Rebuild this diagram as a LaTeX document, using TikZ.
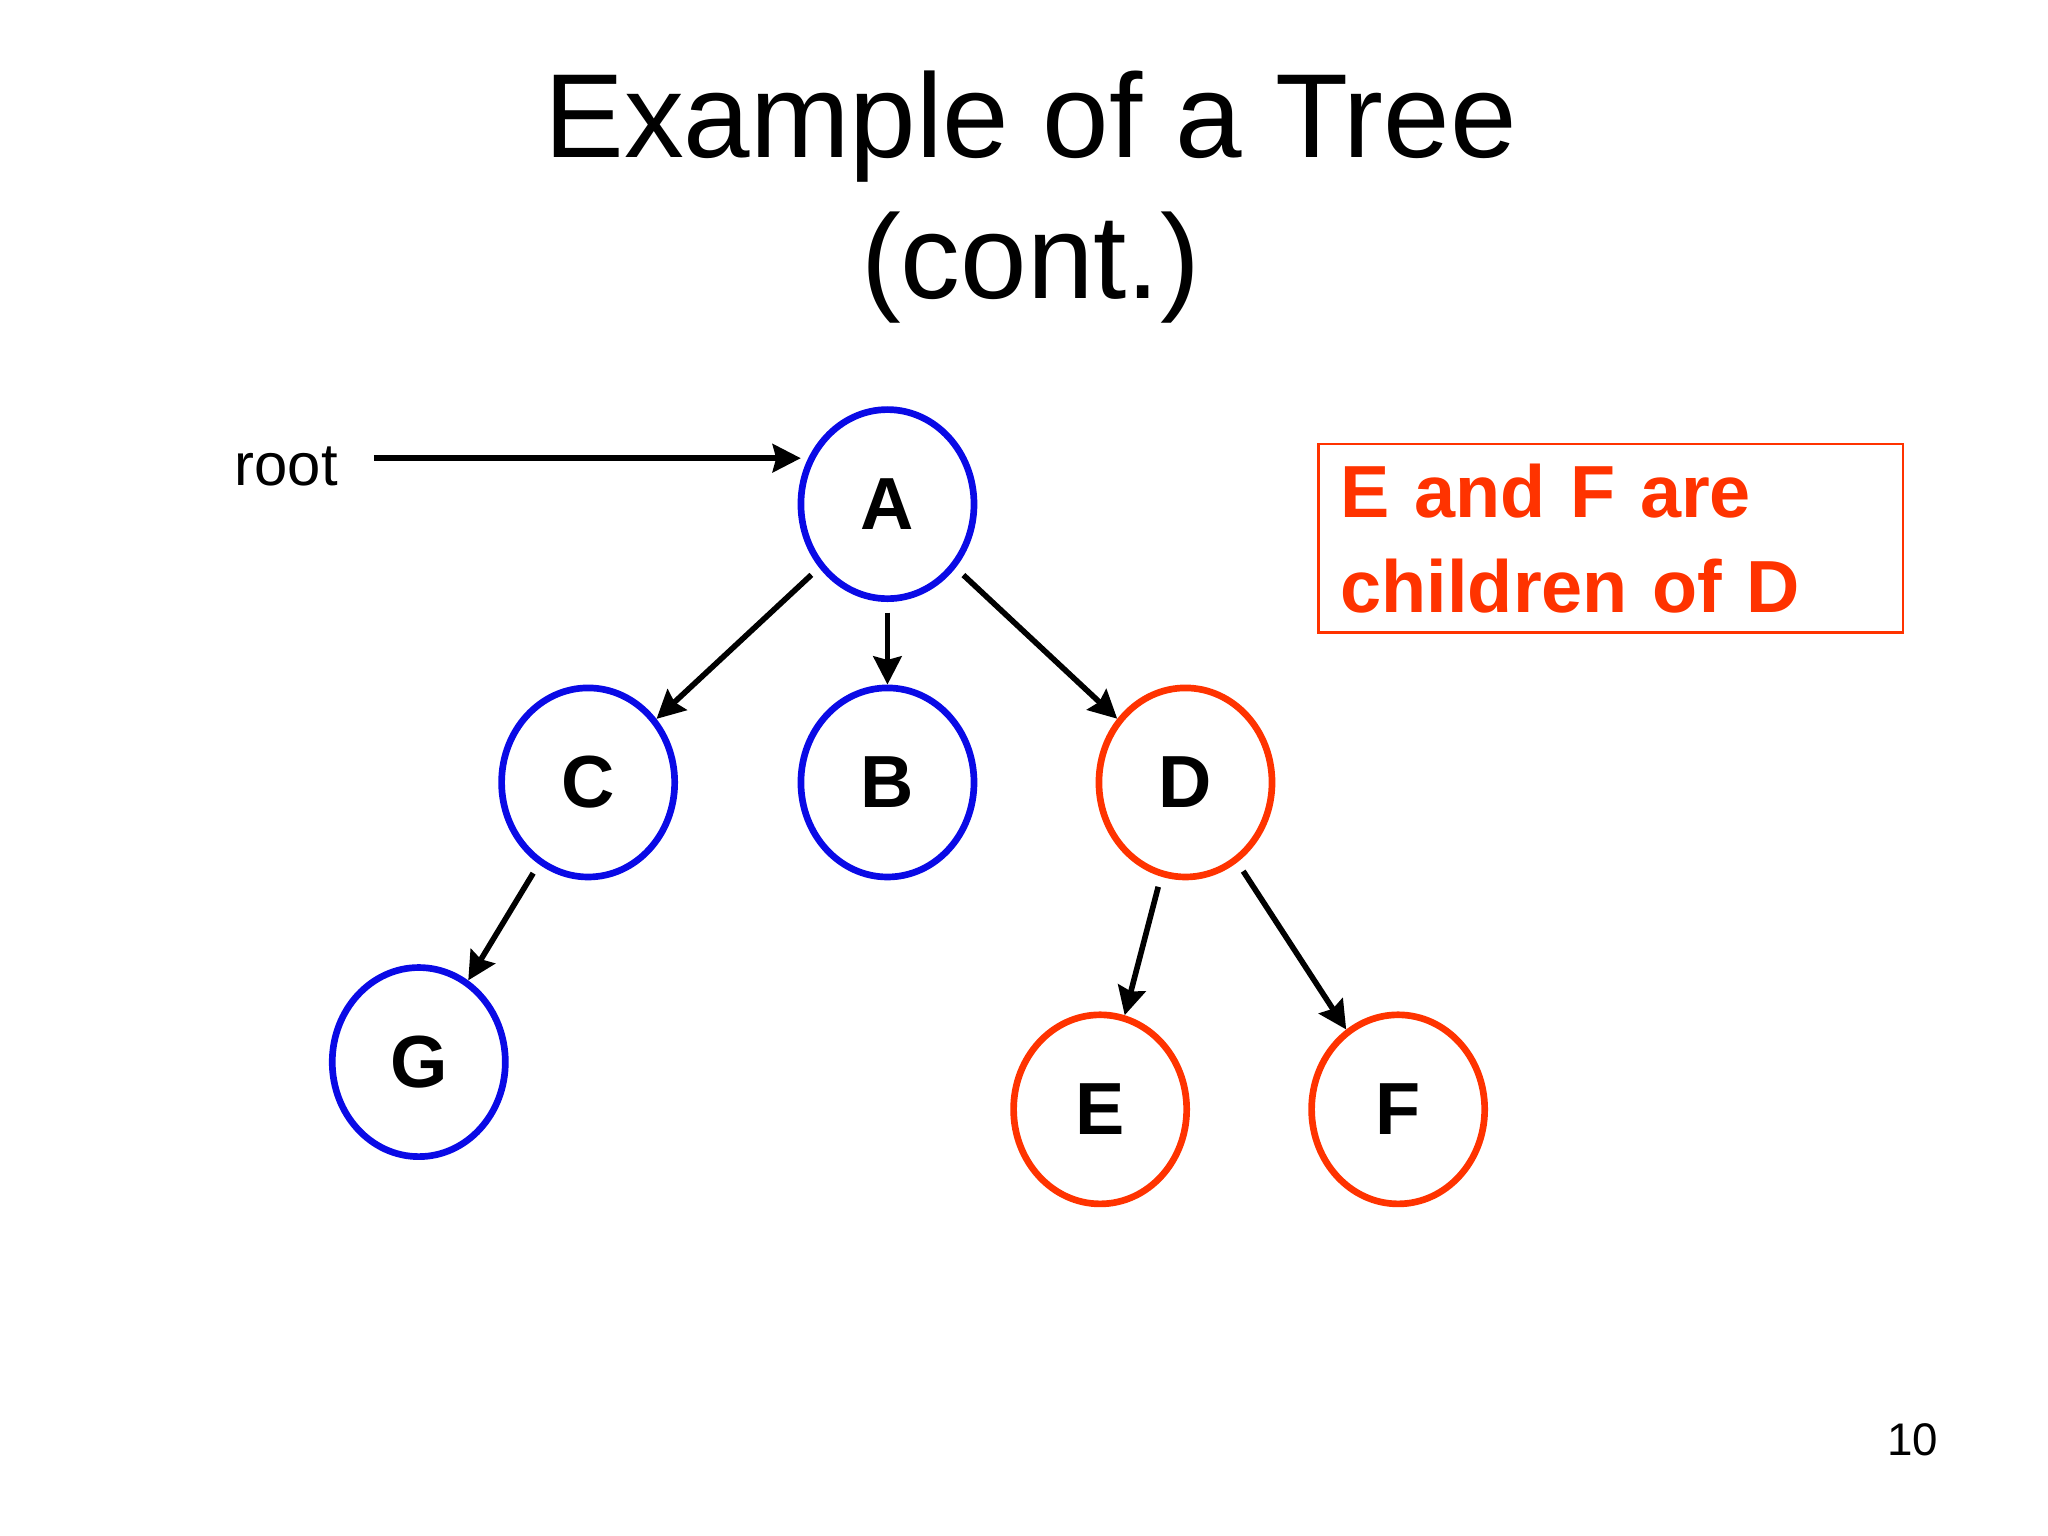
\documentclass[tikz,border=0pt]{standalone}
\usepackage{fontspec}
\setmainfont{Liberation Sans}
\usetikzlibrary{arrows.meta,shapes.geometric}
\definecolor{nblue}{RGB}{10,10,230}
\definecolor{nred}{RGB}{255,51,0}
\begin{document}
\begin{tikzpicture}[x=0.01313cm,y=-0.01313cm,
  tn/.style={ellipse,draw,line width=1.9pt,minimum width=1.73cm,minimum height=1.89cm,inner sep=0pt,font=\fontsize{21}{24}\selectfont\bfseries},
  bl/.style={tn,draw=nblue},
  rd/.style={tn,draw=nred},
  ar/.style={line width=1.6pt,-{Stealth[length=8pt,width=8pt,inset=1pt]},shorten <=3pt}]
\useasboundingbox (0,0) rectangle (1560,1170);
\node[font=\fontsize{34}{40}\selectfont,align=center] (title) at (785,150) {Example of a Tree\\(cont.)};
\node[bl] (A) at (676,384) {A};
\node[bl] (C) at (448,596) {C};
\node[bl] (B) at (676,596) {B};
\node[rd] (D) at (903,596) {D};
\node[bl] (G) at (319,809) {G};
\node[rd] (E) at (838,845) {E};
\node[rd] (F) at (1065,845) {F};
\node[font=\fontsize{17}{20}\selectfont] (root) at (218,355) {root};
\coordinate (rt) at (610,349);
\draw[ar] (root.east |- rt) ++(10,0) -- (rt);
\draw[ar] (A) -- (C);
\draw[ar] (A) -- (B);
\draw[ar] (A) -- (D);
\draw[ar] (C) -- (G);
\draw[ar] (D) -- (E);
\draw[ar] (D) -- (F);
\node[draw=nred,line width=0.7pt,minimum width=5.84cm,minimum height=1.88cm,text width=5.4cm,align=left,text=nred,font=\fontsize{21}{27}\selectfont\bfseries] (box) at (1227,410) {E and F are\\children of D};
\node[font=\fontsize{13}{15}\selectfont] (pg) at (1457,1097) {10};
\end{tikzpicture}
\end{document}
